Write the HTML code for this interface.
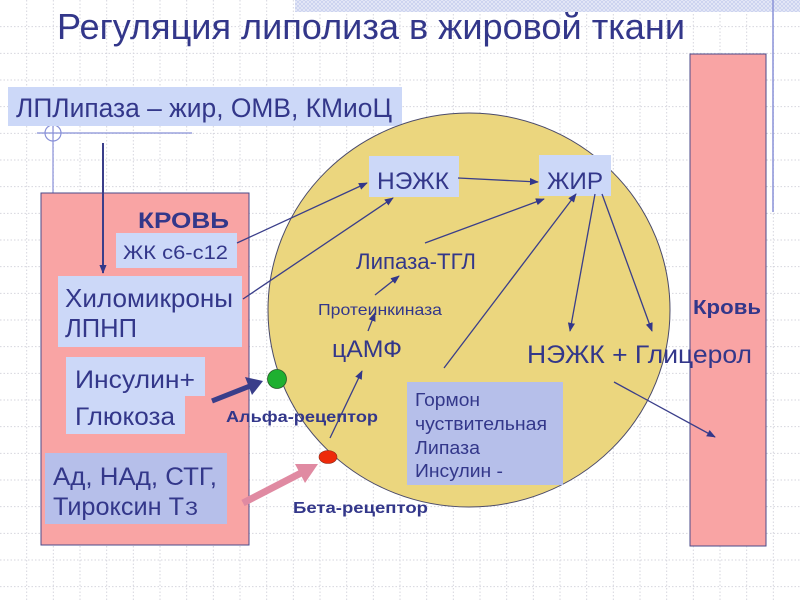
<!DOCTYPE html>
<html><head><meta charset="utf-8">
<style>
html,body{margin:0;padding:0;background:#fff;}
svg{display:block;}
text{font-family:"Liberation Sans","DejaVu Sans",sans-serif;fill:#33378a;}
.b{font-weight:bold;}
</style></head>
<body>
<svg width="800" height="600" viewBox="0 0 800 600" xmlns="http://www.w3.org/2000/svg">
<defs>
<marker id="ah" viewBox="0 0 10 10" refX="9" refY="5" markerWidth="9" markerHeight="9" markerUnits="userSpaceOnUse" orient="auto">
<path d="M0,1 L10,5 L0,9 z" fill="#33378a"/>
</marker>
<pattern id="hatch" width="4" height="4" patternUnits="userSpaceOnUse">
<rect width="4" height="4" fill="#e8ebf8"/>
<path d="M0,0 L4,4 M4,0 L0,4" stroke="#c8cfee" stroke-width="0.8"/>
</pattern>
</defs>
<rect width="800" height="600" fill="#fff"/>
<g stroke="#d6d6de" stroke-width="1" stroke-dasharray="1.5 2">
<line x1="26.67" y1="0" x2="26.67" y2="600"/><line x1="53.33" y1="0" x2="53.33" y2="600"/><line x1="80" y1="0" x2="80" y2="600"/><line x1="106.67" y1="0" x2="106.67" y2="600"/><line x1="133.33" y1="0" x2="133.33" y2="600"/><line x1="160" y1="0" x2="160" y2="600"/><line x1="186.67" y1="0" x2="186.67" y2="600"/><line x1="213.33" y1="0" x2="213.33" y2="600"/><line x1="240" y1="0" x2="240" y2="600"/><line x1="266.67" y1="0" x2="266.67" y2="600"/><line x1="293.33" y1="0" x2="293.33" y2="600"/><line x1="320" y1="0" x2="320" y2="600"/><line x1="346.67" y1="0" x2="346.67" y2="600"/><line x1="373.33" y1="0" x2="373.33" y2="600"/><line x1="400" y1="0" x2="400" y2="600"/><line x1="426.67" y1="0" x2="426.67" y2="600"/><line x1="453.33" y1="0" x2="453.33" y2="600"/><line x1="480" y1="0" x2="480" y2="600"/><line x1="506.67" y1="0" x2="506.67" y2="600"/><line x1="533.33" y1="0" x2="533.33" y2="600"/><line x1="560" y1="0" x2="560" y2="600"/><line x1="586.67" y1="0" x2="586.67" y2="600"/><line x1="613.33" y1="0" x2="613.33" y2="600"/><line x1="640" y1="0" x2="640" y2="600"/><line x1="666.67" y1="0" x2="666.67" y2="600"/><line x1="693.33" y1="0" x2="693.33" y2="600"/><line x1="720" y1="0" x2="720" y2="600"/><line x1="746.67" y1="0" x2="746.67" y2="600"/><line x1="773.33" y1="0" x2="773.33" y2="600"/>
<line x1="0" y1="26.67" x2="800" y2="26.67"/><line x1="0" y1="53.33" x2="800" y2="53.33"/><line x1="0" y1="80" x2="800" y2="80"/><line x1="0" y1="106.67" x2="800" y2="106.67"/><line x1="0" y1="133.33" x2="800" y2="133.33"/><line x1="0" y1="160" x2="800" y2="160"/><line x1="0" y1="186.67" x2="800" y2="186.67"/><line x1="0" y1="213.33" x2="800" y2="213.33"/><line x1="0" y1="240" x2="800" y2="240"/><line x1="0" y1="266.67" x2="800" y2="266.67"/><line x1="0" y1="293.33" x2="800" y2="293.33"/><line x1="0" y1="320" x2="800" y2="320"/><line x1="0" y1="346.67" x2="800" y2="346.67"/><line x1="0" y1="373.33" x2="800" y2="373.33"/><line x1="0" y1="400" x2="800" y2="400"/><line x1="0" y1="426.67" x2="800" y2="426.67"/><line x1="0" y1="453.33" x2="800" y2="453.33"/><line x1="0" y1="480" x2="800" y2="480"/><line x1="0" y1="506.67" x2="800" y2="506.67"/><line x1="0" y1="533.33" x2="800" y2="533.33"/><line x1="0" y1="560" x2="800" y2="560"/><line x1="0" y1="586.67" x2="800" y2="586.67"/>
</g>
<rect x="295" y="0" width="505" height="12" fill="url(#hatch)"/>
<line x1="773" y1="0" x2="773" y2="212" stroke="#8a92d8" stroke-width="1.5"/>

<!-- title -->
<text x="57" y="39" font-size="36" textLength="628" lengthAdjust="spacingAndGlyphs">Регуляция липолиза в жировой ткани</text>

<!-- LPL crosshair -->
<circle cx="53" cy="133" r="8" fill="none" stroke="#8890d8" stroke-width="1.2"/>
<line x1="37" y1="133" x2="192" y2="133" stroke="#8890d8" stroke-width="1.2"/>
<line x1="53" y1="125" x2="53" y2="194" stroke="#8890d8" stroke-width="1.2"/>

<rect x="8" y="87" width="394" height="39" fill="#ccd8f8"/>
<text x="16" y="117" font-size="27" textLength="376" lengthAdjust="spacingAndGlyphs">ЛПЛипаза – жир, ОМВ, КМиоЦ</text>

<!-- left blood -->
<rect x="41" y="193" width="208" height="352" fill="#f9a4a4" stroke="#4a4a8a" stroke-width="1"/>
<!-- right blood -->
<rect x="690" y="54" width="76" height="492" fill="#f9a4a4" stroke="#4a4a8a" stroke-width="1"/>

<!-- cell -->
<ellipse cx="469" cy="310" rx="201" ry="197" fill="#ebd67e" stroke="#4a4a6a" stroke-width="1"/>

<!-- vertical arrow LPL -->
<line x1="103" y1="143" x2="103" y2="273" stroke="#3a3e8a" stroke-width="2" marker-end="url(#ah)"/>

<text class="b" x="138" y="228" font-size="22" textLength="91" lengthAdjust="spacingAndGlyphs">КРОВЬ</text>

<rect x="116" y="233" width="121" height="35" fill="#ccd8f8"/>
<text x="123" y="259" font-size="19" textLength="105" lengthAdjust="spacingAndGlyphs">ЖК с6-с12</text>

<rect x="58" y="276" width="184" height="71" fill="#ccd8f8"/>
<text x="65" y="307" font-size="26" textLength="168" lengthAdjust="spacingAndGlyphs">Хиломикроны</text>
<text x="65" y="337" font-size="26" textLength="72" lengthAdjust="spacingAndGlyphs">ЛПНП</text>

<rect x="66" y="357" width="139" height="39" fill="#ccd8f8"/>
<rect x="66" y="395" width="119" height="39" fill="#ccd8f8"/>
<text x="75" y="388" font-size="25" textLength="120" lengthAdjust="spacingAndGlyphs">Инсулин+</text>
<text x="75" y="425" font-size="25" textLength="100" lengthAdjust="spacingAndGlyphs">Глюкоза</text>

<rect x="45" y="453" width="182" height="71" fill="#b6bfea"/>
<text x="53" y="485" font-size="25" textLength="164" lengthAdjust="spacingAndGlyphs">Ад, НАд, СТГ,</text>
<text x="53" y="515" font-size="25" textLength="131" lengthAdjust="spacingAndGlyphs">Тироксин Т</text>
<text x="185" y="515" font-size="19" textLength="13" lengthAdjust="spacingAndGlyphs">3</text>

<!-- receptors -->
<circle cx="277" cy="379" r="9.5" fill="#1eb030" stroke="#2a5a2a" stroke-width="0.8"/>
<ellipse cx="328" cy="457" rx="9" ry="6.5" fill="#ee2a0a" stroke="#8a2a1a" stroke-width="0.6"/>

<!-- thick arrows -->
<line x1="212" y1="401" x2="250" y2="386" stroke="#3a3e8a" stroke-width="5"/>
<polygon points="263,381 245,377 252,395" fill="#3a3e8a"/>
<line x1="243" y1="503" x2="303" y2="472" stroke="#e08aa2" stroke-width="7"/>
<polygon points="318,464 295,464 305,483" fill="#e08aa2"/>

<text class="b" x="226" y="422" font-size="16" textLength="152" lengthAdjust="spacingAndGlyphs">Альфа-рецептор</text>
<text class="b" x="293" y="513" font-size="16" textLength="135" lengthAdjust="spacingAndGlyphs">Бета-рецептор</text>

<!-- cell nodes -->
<rect x="369" y="156" width="90" height="41" fill="#ccd8f8"/>
<text x="377" y="189" font-size="24" textLength="72" lengthAdjust="spacingAndGlyphs">НЭЖК</text>
<rect x="539" y="155" width="72" height="41" fill="#ccd8f8"/>
<text x="547" y="189" font-size="24" textLength="56" lengthAdjust="spacingAndGlyphs">ЖИР</text>

<text x="356" y="269" font-size="22" textLength="120" lengthAdjust="spacingAndGlyphs">Липаза-ТГЛ</text>
<text x="318" y="315" font-size="16" textLength="124" lengthAdjust="spacingAndGlyphs">Протеинкиназа</text>
<text x="332" y="357" font-size="24" textLength="70" lengthAdjust="spacingAndGlyphs">цАМФ</text>

<rect x="407" y="382" width="156" height="103" fill="#b6bfea"/>
<text x="415" y="406" font-size="18" textLength="65" lengthAdjust="spacingAndGlyphs">Гормон</text>
<text x="415" y="430" font-size="18" textLength="132" lengthAdjust="spacingAndGlyphs">чуствительная</text>
<text x="415" y="454" font-size="18" textLength="65" lengthAdjust="spacingAndGlyphs">Липаза</text>
<text x="415" y="477" font-size="18" textLength="88" lengthAdjust="spacingAndGlyphs">Инсулин -</text>

<text x="527" y="363" font-size="25" textLength="225" lengthAdjust="spacingAndGlyphs">НЭЖК + Глицерол</text>
<text class="b" x="693" y="314" font-size="20" textLength="68" lengthAdjust="spacingAndGlyphs">Кровь</text>

<!-- thin arrows -->
<g stroke="#3a3e8a" stroke-width="1.3" fill="none" marker-end="url(#ah)">
<line x1="237" y1="243" x2="367" y2="183"/>
<line x1="243" y1="299" x2="393" y2="198"/>
<line x1="458" y1="178" x2="538" y2="182"/>
<line x1="425" y1="243" x2="544" y2="199"/>
<line x1="375" y1="295" x2="399" y2="276"/>
<line x1="368" y1="331" x2="375" y2="313"/>
<line x1="330" y1="438" x2="362" y2="371"/>
<line x1="444" y1="368" x2="576" y2="194"/>
<line x1="595" y1="194" x2="570" y2="331"/>
<line x1="602" y1="194" x2="652" y2="331"/>
<line x1="614" y1="382" x2="715" y2="437"/>
</g>
</svg>
</body></html>
